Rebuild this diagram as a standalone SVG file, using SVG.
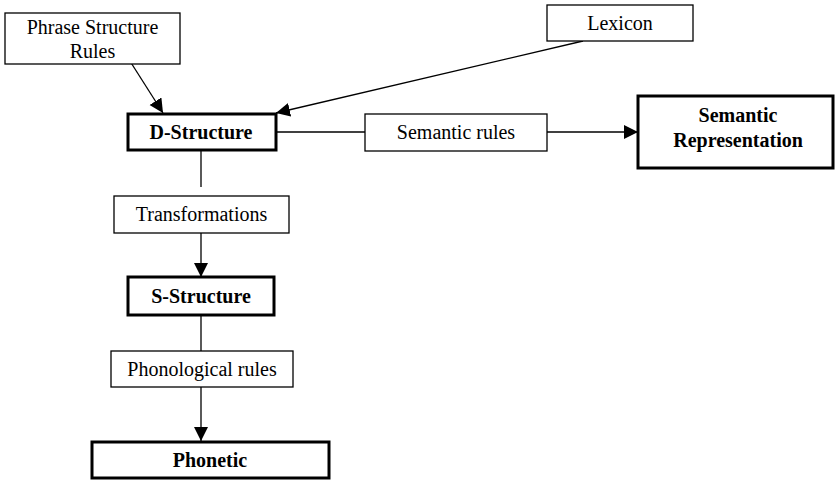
<svg xmlns="http://www.w3.org/2000/svg" width="837" height="481" viewBox="0 0 837 481">
<defs>
<marker id="arr" markerUnits="userSpaceOnUse" markerWidth="15" markerHeight="15" refX="14" refY="7" orient="auto" viewBox="0 0 15 15">
<path d="M0,0 L14,7 L0,14 z" fill="#000"/>
</marker>
<style>
.box{fill:#fff;stroke:#000;stroke-width:1.3}
.bold{fill:#fff;stroke:#000;stroke-width:3}
.t{font-family:"Liberation Serif","Times New Roman",serif;font-size:20px;fill:#000;text-anchor:middle}
.tb{font-family:"Liberation Serif","Times New Roman",serif;font-size:20px;font-weight:bold;fill:#000;text-anchor:middle}
.c{stroke:#000;stroke-width:1.3;fill:none}
</style>
</defs>
<rect width="837" height="481" fill="#fff"/>
<g id="connectors">
<line class="c" x1="128" y1="58" x2="163" y2="113" marker-end="url(#arr)"/>
<line class="c" x1="583" y1="41" x2="276" y2="113" marker-end="url(#arr)"/>
<line class="c" x1="276" y1="132" x2="365" y2="132"/>
<line class="c" x1="547" y1="132" x2="638" y2="132" marker-end="url(#arr)"/>
<line class="c" x1="201" y1="150" x2="201" y2="187"/>
<line class="c" x1="201" y1="233" x2="201" y2="277" marker-end="url(#arr)"/>
<line class="c" x1="201" y1="315" x2="201" y2="351"/>
<line class="c" x1="201" y1="387" x2="201" y2="441" marker-end="url(#arr)"/>
</g>
<g id="psr">
<rect class="box" x="5" y="13" width="175" height="51"/>
<text class="t" x="92.5" y="34">Phrase Structure</text>
<text class="t" x="92.5" y="58">Rules</text>
</g>
<g id="lexicon">
<rect class="box" x="547" y="5" width="146" height="36"/>
<text class="t" x="620" y="30">Lexicon</text>
</g>
<g id="dstructure">
<rect class="bold" x="128" y="114" width="148" height="36"/>
<text class="tb" x="201" y="139">D-Structure</text>
</g>
<g id="semrules">
<rect class="box" x="365" y="114" width="182" height="37"/>
<text class="t" x="456" y="139">Semantic rules</text>
</g>
<g id="semrep">
<rect class="bold" x="638" y="96" width="195" height="72"/>
<text class="tb" x="738" y="122">Semantic</text>
<text class="tb" x="738" y="147">Representation</text>
</g>
<g id="transformations">
<rect class="box" x="114" y="196" width="175" height="37"/>
<text class="t" x="201.5" y="221">Transformations</text>
</g>
<g id="sstructure">
<rect class="bold" x="128" y="277" width="146" height="38"/>
<text class="tb" x="201" y="303">S-Structure</text>
</g>
<g id="phonrules">
<rect class="box" x="111" y="351" width="182" height="36"/>
<text class="t" x="202" y="376">Phonological rules</text>
</g>
<g id="phonetic">
<rect class="bold" x="92" y="442" width="237" height="36"/>
<text class="tb" x="210" y="467">Phonetic</text>
</g>
</svg>
